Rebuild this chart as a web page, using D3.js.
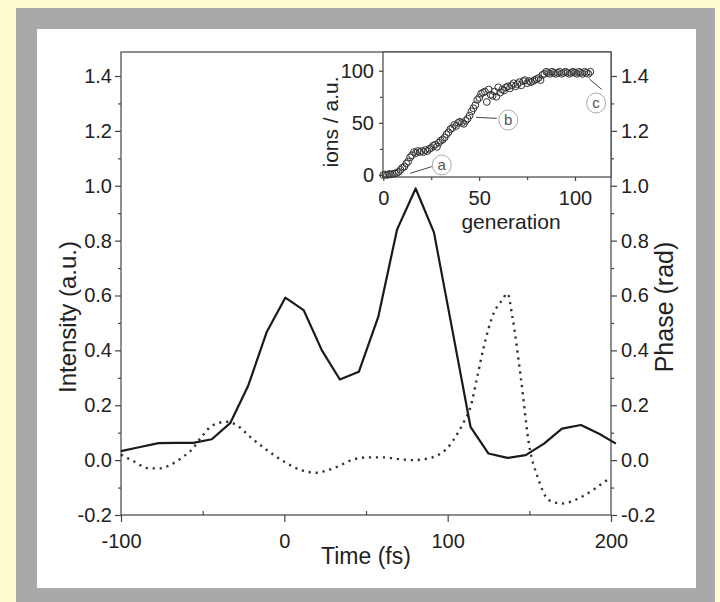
<!DOCTYPE html>
<html>
<head>
<meta charset="utf-8">
<script src="https://cdn.jsdelivr.net/npm/d3@7"></script>
<style>
body { margin: 0; }
text { font-family: "Liberation Sans", Arial, sans-serif; fill: #222; }
.axis path, .axis line { stroke: #444; stroke-width: 1.2; }
</style>
</head>
<body>
<svg id="fig" width="720" height="602"></svg>
<script>
// main plot: pulse intensity (solid) and phase (dotted)
const timeI = [-100, -89, -77, -66, -55.7, -44.4, -33, -22, -10.7, 0.6, 11.8, 23, 34, 45.6, 57.5,
    69, 80.4, 91.6, 103, 114, 125, 136.6, 147.8, 159, 170, 181.6, 193, 203];
const intensity = [0.033, 0.047, 0.062, 0.063, 0.063, 0.076, 0.136, 0.273, 0.468, 0.592, 0.547, 0.40, 0.294, 0.322, 0.522,
    0.84, 0.99, 0.83, 0.47, 0.121, 0.024, 0.008, 0.018, 0.06, 0.115, 0.128, 0.095, 0.06];
const timeP = [-100, -92, -83, -76, -70, -62, -57, -50, -44, -35, -29, -21, -11, 0, 10, 20, 26, 34, 41, 51, 61, 71,
    79, 87, 94, 100, 106, 110, 114, 118, 122, 128.5, 133, 136.6, 139.7, 144.8, 150, 155, 162, 170, 176, 182, 190, 196, 200];
const phase = [0.02, -0.005, -0.03, -0.03, -0.018, 0.012, 0.036, 0.09, 0.127, 0.14, 0.127, 0.085, 0.038, -0.006, -0.036, -0.046, -0.038, -0.02, 0.0, 0.01, 0.01, 0.003,
    0.0, 0.005, 0.018, 0.045, 0.097, 0.14, 0.194, 0.3, 0.41, 0.54, 0.58, 0.607, 0.52, 0.30, 0.05, -0.06, -0.146, -0.158, -0.15, -0.134, -0.105, -0.079, -0.065];
const xTicks = [-100, 0, 100, 200];
const xMinor = [-50, 50, 150];
const yTicks = [-0.2, 0, 0.2, 0.4, 0.6, 0.8, 1.0, 1.2, 1.4];
const yMinor = [-0.1, 0.1, 0.3, 0.5, 0.7, 0.9, 1.1, 1.3];

// inset: ions per generation (index = generation)
const ions = [
    0, 0.5, 0, 1, 0.5, 1, 1.5, 2, 3, 5,
    7, 8, 11, 13, 17, 19, 22, 21, 23, 22,
    23, 22, 24, 23, 25, 26, 28, 29, 27, 31,
    33, 34, 36, 39, 41, 44, 45, 48, 47, 50,
    51, 50, 49, 52, 54, 57, 61, 64, 67, 72,
    74, 78, 79, 80, 70, 82, 77, 76, 80, 75,
    84, 79, 82, 81, 84, 85, 83, 86, 88, 85,
    87, 89, 86, 90, 91, 88, 90, 89, 90, 91,
    92, 93, 91, 96, 97, 99, 98, 97, 99, 98,
    97, 98, 99, 97, 98, 99, 98, 97, 98, 99,
    98, 97, 99, 98, 97, 99, 98, 97, 99];
const gTicks = [0, 50, 100];
const gMinor = [25, 75];
const iTicks = [0, 50, 100];
const iMinor = [25, 75];
const marks = ["a", "b", "c"];
const markAt = [[30.5, 9.6], [65.2, 52.7], [111, 69]];
const leadFrom = [[14, 1.6], [48.4, 55.3], [107.5, 92]];
const leadTo = [[25.3, 8], [59.2, 54.3], [114, 82]];

const svg = d3.select("#fig");

// background panels
svg.append("rect").attr("width", 720).attr("height", 602).attr("fill", "#fffcd2");
svg.append("rect").attr("x", 16).attr("y", 8).attr("width", 699).attr("height", 594).attr("fill", "#a9a9a9");
svg.append("rect").attr("x", 37).attr("y", 29).attr("width", 659).attr("height", 559).attr("fill", "#fff");

const pLeft = 121, pRight = 611, pTop = 52, pBottom = 515;
const x = d3.scaleLinear().domain([-100, 200]).range([pLeft, pRight]);
const y = d3.scaleLinear().domain([-0.2, 1.4]).range([pBottom, 76]);

const fmt = d => d.toFixed(1);

// left axis
svg.append("g").attr("class", "axis").attr("transform", `translate(${pLeft},0)`)
    .call(d3.axisLeft(y).tickValues(yTicks).tickFormat(fmt).tickSize(6).tickPadding(3).tickSizeOuter(0))
    .call(g => g.select(".domain").remove())
    .selectAll("text").style("font-size", "20px");
svg.append("g").attr("class", "axis").attr("transform", `translate(${pLeft},0)`)
    .call(d3.axisLeft(y).tickValues(yMinor).tickFormat("").tickSize(3).tickSizeOuter(0))
    .call(g => g.select(".domain").remove());

// right axis
svg.append("g").attr("class", "axis").attr("transform", `translate(${pRight},0)`)
    .call(d3.axisRight(y).tickValues(yTicks).tickFormat(fmt).tickSize(6).tickPadding(4).tickSizeOuter(0))
    .call(g => g.select(".domain").remove())
    .selectAll("text").style("font-size", "20px");
svg.append("g").attr("class", "axis").attr("transform", `translate(${pRight},0)`)
    .call(d3.axisRight(y).tickValues(yMinor).tickFormat("").tickSize(3).tickSizeOuter(0))
    .call(g => g.select(".domain").remove());

// bottom axis
svg.append("g").attr("class", "axis").attr("transform", `translate(0,${pBottom})`)
    .call(d3.axisBottom(x).tickValues(xTicks).tickFormat(d => String(d)).tickSize(7).tickPadding(12).tickSizeOuter(0))
    .call(g => g.select(".domain").remove())
    .selectAll("text").style("font-size", "20px");
svg.append("g").attr("class", "axis").attr("transform", `translate(0,${pBottom})`)
    .call(d3.axisTop(x).tickValues(xMinor).tickFormat("").tickSize(4).tickSizeOuter(0))
    .call(g => g.select(".domain").remove());

// frame
svg.append("rect").attr("x", pLeft).attr("y", pTop).attr("width", pRight - pLeft).attr("height", pBottom - pTop)
    .attr("fill", "none").attr("stroke", "#444").attr("stroke-width", 1.2);

// curves
svg.append("path")
    .datum(timeP.map((t, i) => [t, phase[i]]))
    .attr("fill", "none").attr("stroke", "#333").attr("stroke-width", 2.4)
    .attr("stroke-dasharray", "2.2,4.8")
    .attr("d", d3.line().x(d => x(d[0])).y(d => y(d[1])).curve(d3.curveMonotoneX));

svg.append("path")
    .datum(timeI.map((t, i) => [t, intensity[i]]))
    .attr("fill", "none").attr("stroke", "#1a1a1a").attr("stroke-width", 2.2)
    .attr("stroke-linejoin", "round")
    .attr("d", d3.line().x(d => x(d[0])).y(d => y(d[1])));

// axis titles
svg.append("text").attr("transform", `translate(76,317) rotate(-90)`)
    .attr("text-anchor", "middle").style("font-size", "24px").text("Intensity (a.u.)");
svg.append("text").attr("transform", `translate(673,307) rotate(-90)`)
    .attr("text-anchor", "middle").style("font-size", "25px").text("Phase (rad)");
svg.append("text").attr("x", (pLeft + pRight) / 2).attr("y", 564)
    .attr("text-anchor", "middle").style("font-size", "23px").text("Time (fs)");

// inset
const iLeft = 383, iRight = 611, iTop = 52, iBottom = 177;
const gx = d3.scaleLinear().domain([0, 100]).range([383.3, 575]);
const gy = d3.scaleLinear().domain([0, 100]).range([175, 70.7]);

svg.append("rect").attr("x", iLeft).attr("y", iTop).attr("width", iRight - iLeft).attr("height", iBottom - iTop)
    .attr("fill", "#fff").attr("stroke", "#444").attr("stroke-width", 1.2);

svg.append("g").attr("class", "axis").attr("transform", `translate(${iLeft},0)`)
    .call(d3.axisLeft(gy).tickValues(iTicks).tickSize(4).tickPadding(5).tickSizeOuter(0))
    .call(g => g.select(".domain").remove())
    .selectAll("text").style("font-size", "20px");
svg.append("g").attr("class", "axis").attr("transform", `translate(${iLeft},0)`)
    .call(d3.axisLeft(gy).tickValues(iMinor).tickFormat("").tickSize(3).tickSizeOuter(0))
    .call(g => g.select(".domain").remove());
svg.append("g").attr("class", "axis").attr("transform", `translate(0,${iBottom})`)
    .call(d3.axisBottom(gx).tickValues(gTicks).tickSize(4).tickPadding(10).tickSizeOuter(0))
    .call(g => g.select(".domain").remove())
    .selectAll("text").style("font-size", "20px");
svg.append("g").attr("class", "axis").attr("transform", `translate(0,${iBottom})`)
    .call(d3.axisBottom(gx).tickValues(gMinor).tickFormat("").tickSize(3).tickSizeOuter(0))
    .call(g => g.select(".domain").remove());

svg.append("text").attr("transform", `translate(338,122) rotate(-90)`)
    .attr("text-anchor", "middle").style("font-size", "21px").text("ions / a.u.");
svg.append("text").attr("x", 511).attr("y", 229)
    .attr("text-anchor", "middle").style("font-size", "21px").text("generation");

svg.append("g").selectAll("circle")
    .data(ions)
    .join("circle")
    .attr("cx", (d, i) => gx(i))
    .attr("cy", d => gy(d))
    .attr("r", 3.4)
    .attr("fill", "none")
    .attr("stroke", "#333")
    .attr("stroke-width", 1);

// labelled marks a, b, c
const notes = svg.append("g").selectAll("g").data(marks).join("g");
notes.append("line")
    .attr("x1", (d, i) => gx(leadFrom[i][0])).attr("y1", (d, i) => gy(leadFrom[i][1]))
    .attr("x2", (d, i) => gx(leadTo[i][0])).attr("y2", (d, i) => gy(leadTo[i][1]))
    .attr("stroke", "#444").attr("stroke-width", 1);
notes.append("ellipse")
    .attr("cx", (d, i) => gx(markAt[i][0])).attr("cy", (d, i) => gy(markAt[i][1]))
    .attr("rx", 9.5).attr("ry", 10).attr("fill", "#fff").attr("stroke", "#aaa").attr("stroke-width", 1);
notes.append("text")
    .attr("x", (d, i) => gx(markAt[i][0])).attr("y", (d, i) => gy(markAt[i][1]) + 5)
    .attr("text-anchor", "middle").style("font-size", "15px").style("fill", "#555")
    .text(d => d);
</script>
</body>
</html>
